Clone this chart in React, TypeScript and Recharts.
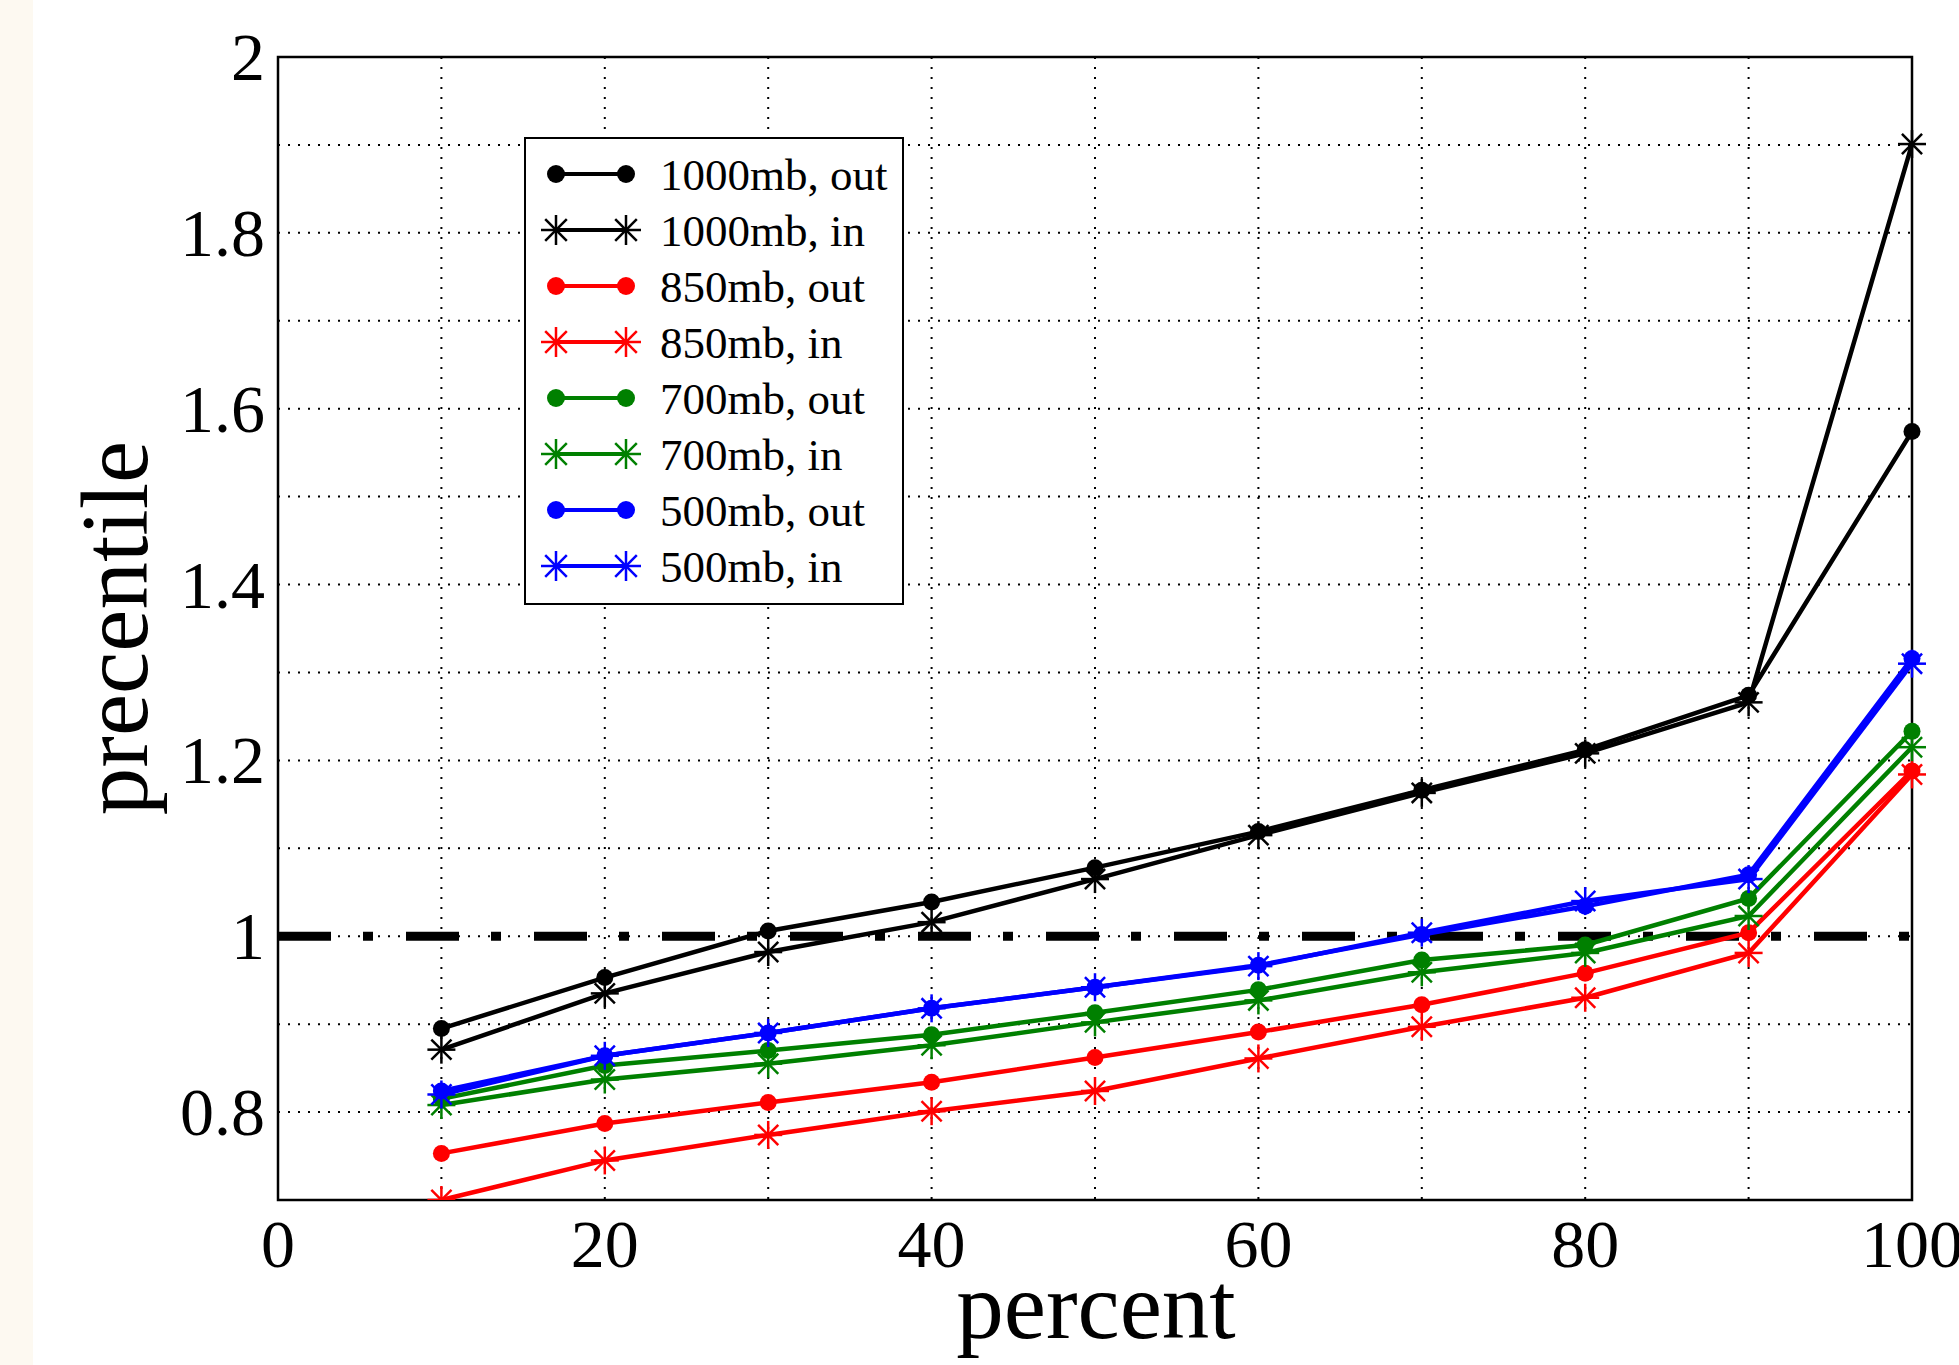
import React from 'react';
import {
  LineChart,
  Line,
  XAxis,
  YAxis,
  CartesianGrid,
  ReferenceLine,
  ReferenceArea,
  Legend,
} from 'recharts';

const percents = [10, 20, 30, 40, 50, 60, 70, 80, 90, 100];

const mb1000Out = [0.895, 0.953, 1.006, 1.039, 1.078, 1.119, 1.166, 1.212, 1.274, 1.574];
const mb1000In = [0.871, 0.935, 0.982, 1.016, 1.065, 1.115, 1.163, 1.208, 1.266, 1.901];
const mb850Out = [0.753, 0.787, 0.811, 0.834, 0.862, 0.891, 0.922, 0.958, 1.004, 1.188];
const mb850In = [0.7, 0.745, 0.774, 0.801, 0.824, 0.861, 0.897, 0.93, 0.981, 1.184];
const mb700Out = [0.815, 0.853, 0.87, 0.888, 0.913, 0.939, 0.973, 0.99, 1.043, 1.233];
const mb700In = [0.808, 0.837, 0.855, 0.876, 0.902, 0.927, 0.959, 0.981, 1.023, 1.215];
const mb500Out = [0.824, 0.864, 0.89, 0.918, 0.942, 0.967, 1.002, 1.034, 1.07, 1.316];
const mb500In = [0.82, 0.864, 0.89, 0.918, 0.942, 0.966, 1.004, 1.04, 1.065, 1.31];

const xTicks = [0, 10, 20, 30, 40, 50, 60, 70, 80, 90, 100];
const yTicks = [0.7, 0.8, 0.9, 1, 1.1, 1.2, 1.3, 1.4, 1.5, 1.6, 1.7, 1.8, 1.9, 2];

const series = [
  { key: 'a', name: '1000mb, out', color: '#000000', marker: 'dot', values: mb1000Out },
  { key: 'b', name: '1000mb, in', color: '#000000', marker: 'star', values: mb1000In },
  { key: 'c', name: '850mb, out', color: '#ff0000', marker: 'dot', values: mb850Out },
  { key: 'd', name: '850mb, in', color: '#ff0000', marker: 'star', values: mb850In },
  { key: 'e', name: '700mb, out', color: '#008000', marker: 'dot', values: mb700Out },
  { key: 'f', name: '700mb, in', color: '#008000', marker: 'star', values: mb700In },
  { key: 'g', name: '500mb, out', color: '#0000ff', marker: 'dot', values: mb500Out },
  { key: 'h', name: '500mb, in', color: '#0000ff', marker: 'star', values: mb500In },
];

const data = percents.map((p, i) => {
  const row: Record<string, number> = { x: p };
  series.forEach((s) => {
    row[s.key] = s.values[i];
  });
  return row;
});

const FONT = "'Liberation Serif', 'DejaVu Serif', serif";

const Star = ({ cx, cy, color, r }: { cx: number; cy: number; color: string; r: number }) => {
  const d = r * 0.72;
  return (
    <g stroke={color} strokeWidth={2.5}>
      <line x1={cx - r} y1={cy} x2={cx + r} y2={cy} />
      <line x1={cx} y1={cy - r} x2={cx} y2={cy + r} />
      <line x1={cx - d} y1={cy - d} x2={cx + d} y2={cy + d} />
      <line x1={cx - d} y1={cy + d} x2={cx + d} y2={cy - d} />
    </g>
  );
};

const makeDot = (marker: string, color: string) => (props: any) => {
  const { cx, cy, index } = props;
  if (cx == null || cy == null) return <g key={index} />;
  if (marker === 'star') {
    return (
      <g key={index}>
        <Star cx={cx} cy={cy} color={color} r={14} />
      </g>
    );
  }
  return <circle key={index} cx={cx} cy={cy} r={8.5} fill={color} stroke="none" />;
};

const XTick = (props: any) => {
  const { x, y, payload } = props;
  if (payload.value % 20 !== 0) return <g />;
  return (
    <text x={x} y={y + 67} textAnchor="middle" fontFamily={FONT} fontSize={68} fill="#000">
      {payload.value}
    </text>
  );
};

const YTick = (props: any) => {
  const { x, y, payload } = props;
  const tenth = Math.round(payload.value * 10);
  if (tenth % 2 !== 0) return <g />;
  return (
    <text x={x - 13} y={y + 23} textAnchor="end" fontFamily={FONT} fontSize={68} fill="#000">
      {String(tenth / 10)}
    </text>
  );
};

const LegendBox = () => (
  <svg width={380} height={468} style={{ display: 'block' }}>
    <rect x={1} y={1} width={378} height={466} fill="#fff" stroke="#000" strokeWidth={2} />
    {series.map((s, i) => {
      const cy = 37 + i * 56;
      return (
        <g key={s.key}>
          <line x1={32} y1={cy} x2={102} y2={cy} stroke={s.color} strokeWidth={4} />
          {s.marker === 'star' ? (
            <>
              <Star cx={32} cy={cy} color={s.color} r={15} />
              <Star cx={102} cy={cy} color={s.color} r={15} />
            </>
          ) : (
            <>
              <circle cx={32} cy={cy} r={9} fill={s.color} />
              <circle cx={102} cy={cy} r={9} fill={s.color} />
            </>
          )}
          <text x={136} y={cy + 16} fontFamily={FONT} fontSize={45} fill="#000">
            {s.name}
          </text>
        </g>
      );
    })}
  </svg>
);

export default function App() {
  return (
    <div style={{ position: 'absolute', left: 0, top: 0, width: 1959, height: 1365, background: '#fff' }}>
      <div style={{ position: 'absolute', left: 0, top: 0, width: 33, height: 1365, background: '#fdf9f1' }} />
      <div style={{ position: 'absolute', left: 0, top: 0 }}>
        <LineChart
          width={1959}
          height={1365}
          data={data}
          margin={{ top: 57, right: 47, bottom: 65, left: 128 }}
        >
          <CartesianGrid stroke="#000" strokeWidth={2} strokeDasharray="2 8" />
          <XAxis
            dataKey="x"
            type="number"
            domain={[0, 100]}
            ticks={xTicks}
            height={100}
            axisLine={false}
            tickLine={false}
            tickSize={0}
            tickMargin={0}
            tick={<XTick />}
            interval={0}
            label={{
              value: 'percent',
              content: () => (
                <text x={1096} y={1338} textAnchor="middle" fontFamily={FONT} fontSize={95} fill="#000">
                  percent
                </text>
              ),
            }}
          />
          <YAxis
            type="number"
            domain={[0.7, 2]}
            ticks={yTicks}
            width={150}
            axisLine={false}
            tickLine={false}
            tickSize={0}
            tickMargin={0}
            tick={<YTick />}
            interval={0}
            allowDataOverflow
            label={{
              value: 'precentile',
              content: () => (
                <text
                  x={147}
                  y={628}
                  transform="rotate(-90 147 628)"
                  textAnchor="middle"
                  fontFamily={FONT}
                  fontSize={95}
                  fill="#000"
                >
                  precentile
                </text>
              ),
            }}
          />
          <ReferenceLine y={1} stroke="#000" strokeWidth={9} strokeDasharray="53 32 10 33" />
          {series.map((s) => (
            <Line
              key={s.key}
              dataKey={s.key}
              name={s.name}
              type="linear"
              stroke={s.color}
              strokeWidth={4.5}
              dot={makeDot(s.marker, s.color)}
              activeDot={false}
              isAnimationActive={false}
            />
          ))}
          <ReferenceArea x1={0} x2={100} y1={0.7} y2={2} fill="none" stroke="#000" strokeWidth={2.5} />
          <Legend
            layout="horizontal"
            align="center"
            verticalAlign="middle"
            content={() => <LegendBox />}
            wrapperStyle={{ position: 'absolute', left: 524, top: 137, width: 380, height: 468 }}
          />
        </LineChart>
      </div>
    </div>
  );
}
